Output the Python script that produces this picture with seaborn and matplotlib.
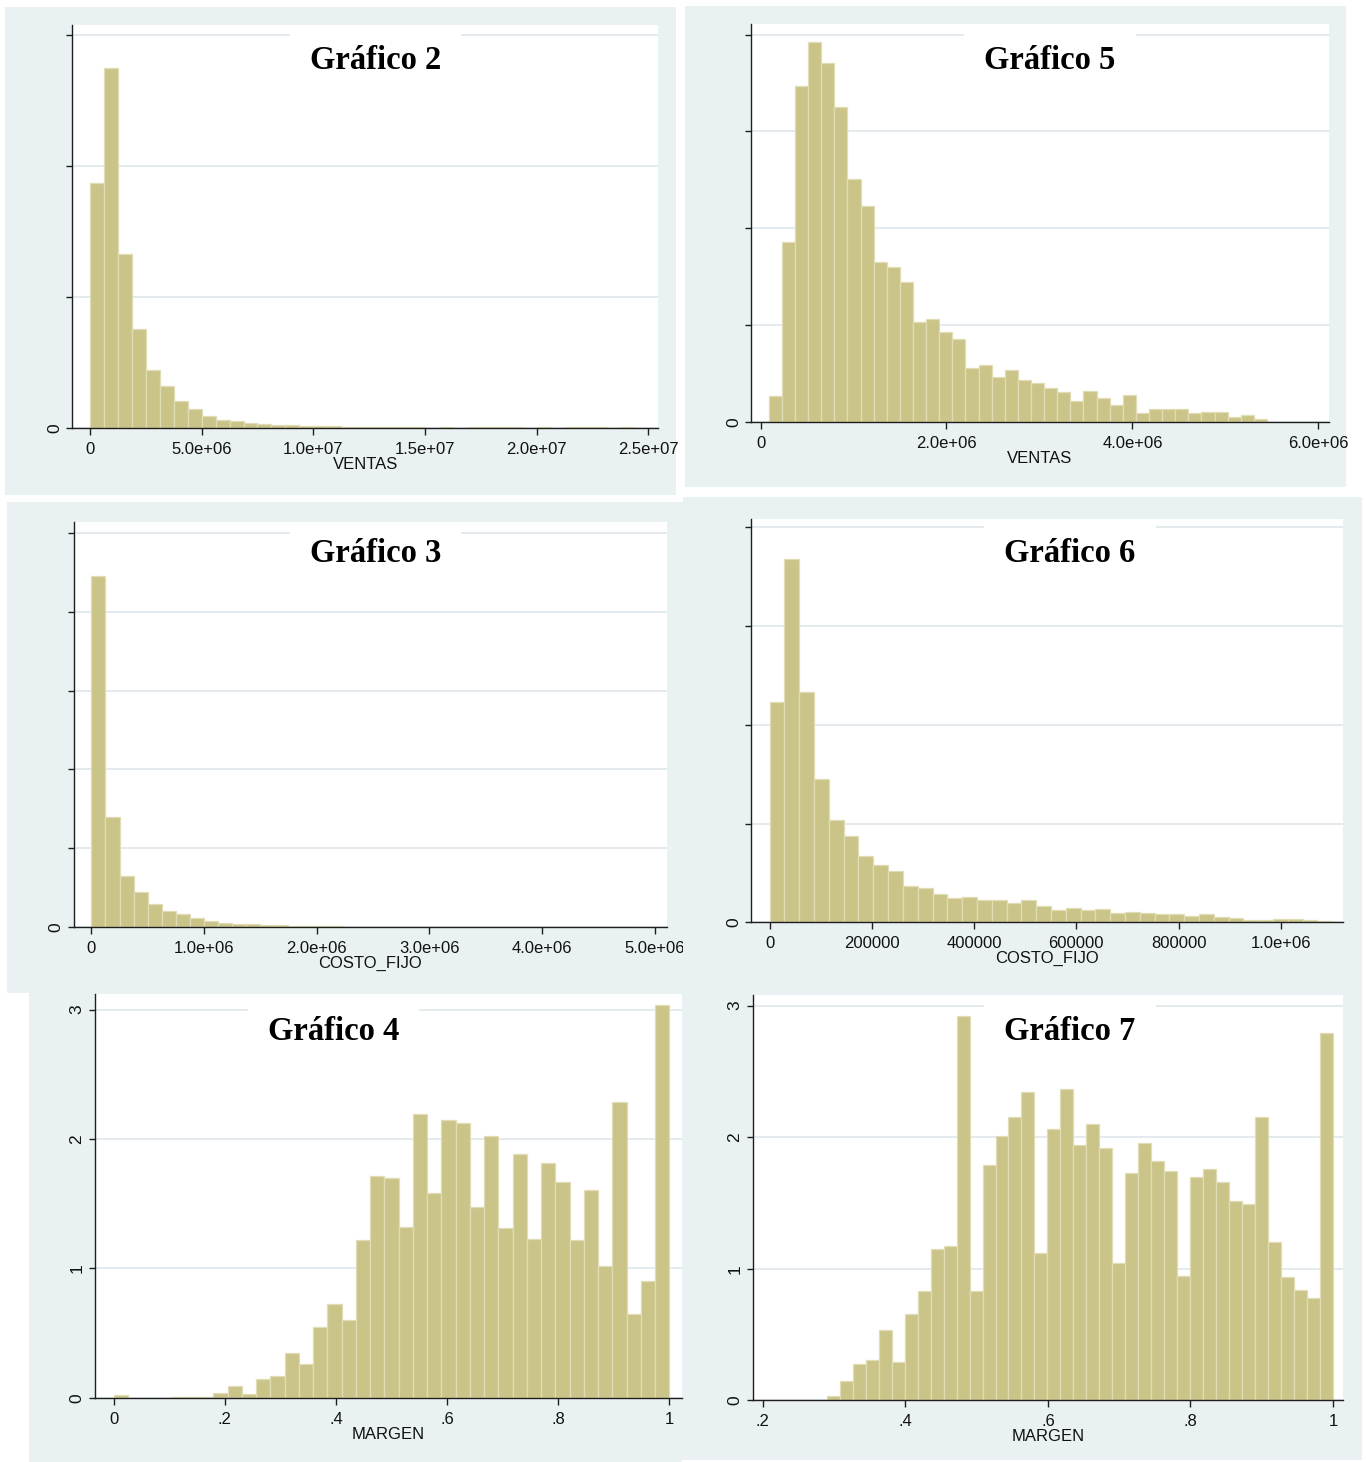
import numpy as np
import pandas as pd
import matplotlib
matplotlib.use("Agg")
import matplotlib.pyplot as plt
from matplotlib.patches import Rectangle
import seaborn as sns

# ---------------------------------------------------------------------------
# Histogram data (bar heights are densities; bins are equal width)
# ---------------------------------------------------------------------------

# Gráfico 2: VENTAS, full sample (density x 1e-7)
ventas_all_start, ventas_all_stop, ventas_all_nbins = 0.0, 25.0e6, 40
ventas_all_dens = [3.74, 5.50, 2.66, 1.51, 0.88, 0.63, 0.41, 0.28, 0.18, 0.12,
                   0.10, 0.07, 0.06, 0.04, 0.04, 0.03, 0.025, 0.02, 0.015, 0.012,
                   0.012, 0.006, 0.004, 0.004, 0.0, 0.01, 0.0, 0.008, 0.008, 0.008,
                   0.006, 0.0, 0.008, 0.0, 0.006, 0.006, 0.006, 0.0, 0.006, 0.0]

# Gráfico 5: VENTAS, trimmed sample (density x 1e-7)
ventas_trim_start, ventas_trim_stop, ventas_trim_nbins = 0.089e6, 5.447e6, 38
ventas_trim_dens = [0.54, 3.72, 6.94, 7.85, 7.41, 6.51, 5.02, 4.45, 3.31, 3.19,
                    2.89, 2.07, 2.12, 1.85, 1.70, 1.11, 1.18, 0.92, 1.07, 0.86,
                    0.81, 0.70, 0.61, 0.43, 0.64, 0.48, 0.35, 0.55, 0.19, 0.27,
                    0.27, 0.27, 0.19, 0.21, 0.21, 0.09, 0.14, 0.05]

# Gráfico 3: COSTO_FIJO, full sample (density x 1e-6)
costo_all_start, costo_all_stop, costo_all_nbins = 0.0, 4.856e6, 39
costo_all_dens = [4.45, 1.40, 0.65, 0.45, 0.30, 0.21, 0.165, 0.12, 0.084, 0.059,
                  0.046, 0.038, 0.030, 0.025, 0.021, 0.017, 0.017, 0.012, 0.008, 0.008,
                  0.006, 0.006, 0.005, 0.005, 0.004, 0.004, 0.004, 0.004, 0.003, 0.003,
                  0.003, 0.003, 0.0, 0.0, 0.0, 0.0, 0.004, 0.004, 0.004]

# Gráfico 6: COSTO_FIJO, trimmed sample (density x 1e-6)
costo_trim_start, costo_trim_stop, costo_trim_nbins = 0.0, 1.1006e6, 38
costo_trim_dens = [4.47, 7.36, 4.67, 2.90, 2.07, 1.74, 1.35, 1.17, 1.04, 0.74,
                   0.69, 0.57, 0.49, 0.52, 0.45, 0.45, 0.40, 0.45, 0.33, 0.24,
                   0.28, 0.24, 0.26, 0.18, 0.20, 0.18, 0.16, 0.16, 0.13, 0.16,
                   0.10, 0.08, 0.05, 0.05, 0.07, 0.07, 0.05, 0.03]

# Gráfico 4: MARGEN, full sample (density)
margen_all_start, margen_all_stop, margen_all_nbins = 0.0, 1.0, 39
margen_all_dens = [0.018, 0.0, 0.0, 0.0, 0.005, 0.008, 0.008, 0.039, 0.090, 0.031,
                   0.144, 0.165, 0.348, 0.258, 0.543, 0.721, 0.597, 1.216, 1.710, 1.695,
                   1.319, 2.189, 1.584, 2.145, 2.122, 1.473, 2.019, 1.311, 1.880, 1.226,
                   1.816, 1.666, 1.216, 1.602, 1.020, 2.282, 0.646, 0.899, 3.034]

# Gráfico 7: MARGEN, trimmed sample (density)
margen_trim_start, margen_trim_stop, margen_trim_nbins = 0.2898, 1.0, 39
margen_trim_dens = [0.030, 0.144, 0.276, 0.307, 0.537, 0.294, 0.656, 0.831, 1.148, 1.170,
                    2.924, 0.831, 1.789, 2.012, 2.154, 2.346, 1.117, 2.060, 2.366, 1.938,
                    2.100, 1.915, 1.041, 1.728, 1.953, 1.817, 1.743, 0.948, 1.700, 1.756,
                    1.659, 1.518, 1.490, 2.151, 1.206, 0.940, 0.839, 0.775, 2.789]

# Axis ticks and labels
ventas_all_xticks = [0, 5e6, 10e6, 15e6, 20e6, 25e6]
ventas_all_xlabels = ["0", "5.0e+06", "1.0e+07", "1.5e+07", "2.0e+07", "2.5e+07"]
ventas_trim_xticks = [0, 2e6, 4e6, 6e6]
ventas_trim_xlabels = ["0", "2.0e+06", "4.0e+06", "6.0e+06"]
costo_all_xticks = [0, 1e6, 2e6, 3e6, 4e6, 5e6]
costo_all_xlabels = ["0", "1.0e+06", "2.0e+06", "3.0e+06", "4.0e+06", "5.0e+06"]
costo_trim_xticks = [0, 200000, 400000, 600000, 800000, 1000000]
costo_trim_xlabels = ["0", "200000", "400000", "600000", "800000", "1.0e+06"]
margen_all_xticks = [0, 0.2, 0.4, 0.6, 0.8, 1.0]
margen_all_xlabels = ["0", ".2", ".4", ".6", ".8", "1"]
margen_trim_xticks = [0.2, 0.4, 0.6, 0.8, 1.0]
margen_trim_xlabels = [".2", ".4", ".6", ".8", "1"]

# ---------------------------------------------------------------------------
# Style
# ---------------------------------------------------------------------------
W, H = 1366, 1462
sns.set_theme(style="white")
plt.rcParams["font.family"] = ["Liberation Sans", "DejaVu Sans"]

BAR = "#CBC488"
EDGE = "#E0DCB6"
PANEL = "#EAF1F3"
GRID = "#E3EBEE"
AXC = "#1e1e1e"

fig = plt.figure(figsize=(W / 100, H / 100), dpi=100)
fig.patch.set_facecolor("white")


def panel_background(x0, y0, x1, y1, z):
    fig.add_artist(Rectangle((x0 / W, 1 - y1 / H), (x1 - x0) / W, (y1 - y0) / H,
                             transform=fig.transFigure, facecolor=PANEL,
                             edgecolor="none", zorder=z))


def histogram_panel(box, start, stop, nbins, dens, xlim, ylim, yticks, ylabels,
                    xticks, xlabels, xname, title, title_xy, z):
    l, t, r, b = box
    ax = fig.add_axes([l / W, 1 - b / H, (r - l) / W, (b - t) / H], zorder=z)
    ax.set_facecolor("white")

    edges = np.linspace(start, stop, nbins + 1)
    frame = pd.DataFrame({"value": (edges[:-1] + edges[1:]) / 2, "density": dens})
    sns.histplot(data=frame, x="value", weights="density", bins=list(edges), ax=ax,
                 stat="count", color=BAR, edgecolor=EDGE, linewidth=0.9, alpha=1)

    ax.set_xlim(*xlim)
    ax.set_ylim(*ylim)
    ax.set_xticks(xticks)
    ax.set_xticklabels(xlabels)
    ax.set_yticks(yticks)
    ax.set_yticklabels(ylabels, rotation=90, va="center")
    ax.set_ylabel("")
    ax.set_xlabel(xname, fontsize=12, labelpad=0, color="#111111")

    for side in ("top", "right"):
        ax.spines[side].set_visible(False)
    for side in ("left", "bottom"):
        ax.spines[side].set_color(AXC)
        ax.spines[side].set_linewidth(1.0)

    ax.yaxis.grid(True, color=GRID, linewidth=1.4)
    ax.xaxis.grid(False)
    ax.set_axisbelow(True)
    ax.tick_params(axis="x", direction="out", length=5, width=1.0, color=AXC,
                   labelsize=12, pad=5, labelcolor="#111111", bottom=True)
    ax.tick_params(axis="y", direction="out", length=4.5, width=1.0, color=AXC,
                   labelsize=12.5, pad=3, labelcolor="#111111", left=True)

    # title with a white box that interrupts the top grid line
    tx = (title_xy[0] - l) / (r - l)
    ty = (b - title_xy[1]) / (b - t)
    ax.text(tx, ty, title, transform=ax.transAxes, ha="center", va="center",
            fontsize=23.5, fontweight="bold", family=["Liberation Serif", "DejaVu Serif"],
            color="black", zorder=4, clip_on=True,
            bbox=dict(boxstyle="square,pad=0.62", facecolor="white", edgecolor="none"))
    return ax


# panel backgrounds
panel_background(5, 7, 676, 495, -1)
panel_background(685, 6, 1346, 487, -1)
panel_background(7, 502, 686, 993, -1)
panel_background(683, 497, 1362, 995, 0.5)
panel_background(29, 993, 682, 1462, -1)
panel_background(682, 993, 1362, 1460, -1)

histogram_panel((72.3, 25, 657.8, 427.7), ventas_all_start, ventas_all_stop,
                ventas_all_nbins, ventas_all_dens, (-0.79e6, 25.42e6), (0, 6.15),
                [0, 2, 4, 6], ["0", "", "", ""],
                ventas_all_xticks, ventas_all_xlabels, "VENTAS", "Gráfico 2",
                (375.5, 60.5), 0)

histogram_panel((751.4, 24, 1328.6, 421.7), ventas_trim_start, ventas_trim_stop,
                ventas_trim_nbins, ventas_trim_dens, (-0.098e6, 6.109e6), (0, 8.22),
                [0, 2, 4, 6, 8], ["0", "", "", "", ""],
                ventas_trim_xticks, ventas_trim_xlabels, "VENTAS", "Gráfico 5",
                (1050, 60.8), 0)

histogram_panel((74, 522, 666.5, 927.3), costo_all_start, costo_all_stop,
                costo_all_nbins, costo_all_dens, (-0.155e6, 5.106e6), (0, 5.136),
                [0, 1, 2, 3, 4, 5], ["0", "", "", "", "", ""],
                costo_all_xticks, costo_all_xlabels, "COSTO_FIJO", "Gráfico 3",
                (375.5, 554), 0)

histogram_panel((751.4, 519, 1343, 922.3), costo_trim_start, costo_trim_stop,
                costo_trim_nbins, costo_trim_dens, (-35.8e3, 1.1219e6), (0, 8.17),
                [0, 2, 4, 6, 8], ["0", "", "", "", ""],
                costo_trim_xticks, costo_trim_xlabels, "COSTO_FIJO", "Gráfico 6",
                (1070, 554), 1)

histogram_panel((95, 993.5, 681.7, 1397.7), margen_all_start, margen_all_stop,
                margen_all_nbins, margen_all_dens, (-0.0333, 1.022), (0, 3.124),
                [0, 1, 2, 3], ["0", "1", "2", "3"],
                margen_all_xticks, margen_all_xlabels, "MARGEN", "Gráfico 4",
                (333.5, 1031.5), 0)

histogram_panel((752.7, 995, 1343, 1400.3), margen_trim_start, margen_trim_stop,
                margen_trim_nbins, margen_trim_dens, (0.186, 1.0139), (0, 3.08),
                [0, 1, 2, 3], ["0", "1", "2", "3"],
                margen_trim_xticks, margen_trim_xlabels, "MARGEN", "Gráfico 7",
                (1070, 1032), 1)

fig.savefig("out.png", dpi=100, facecolor="white")
